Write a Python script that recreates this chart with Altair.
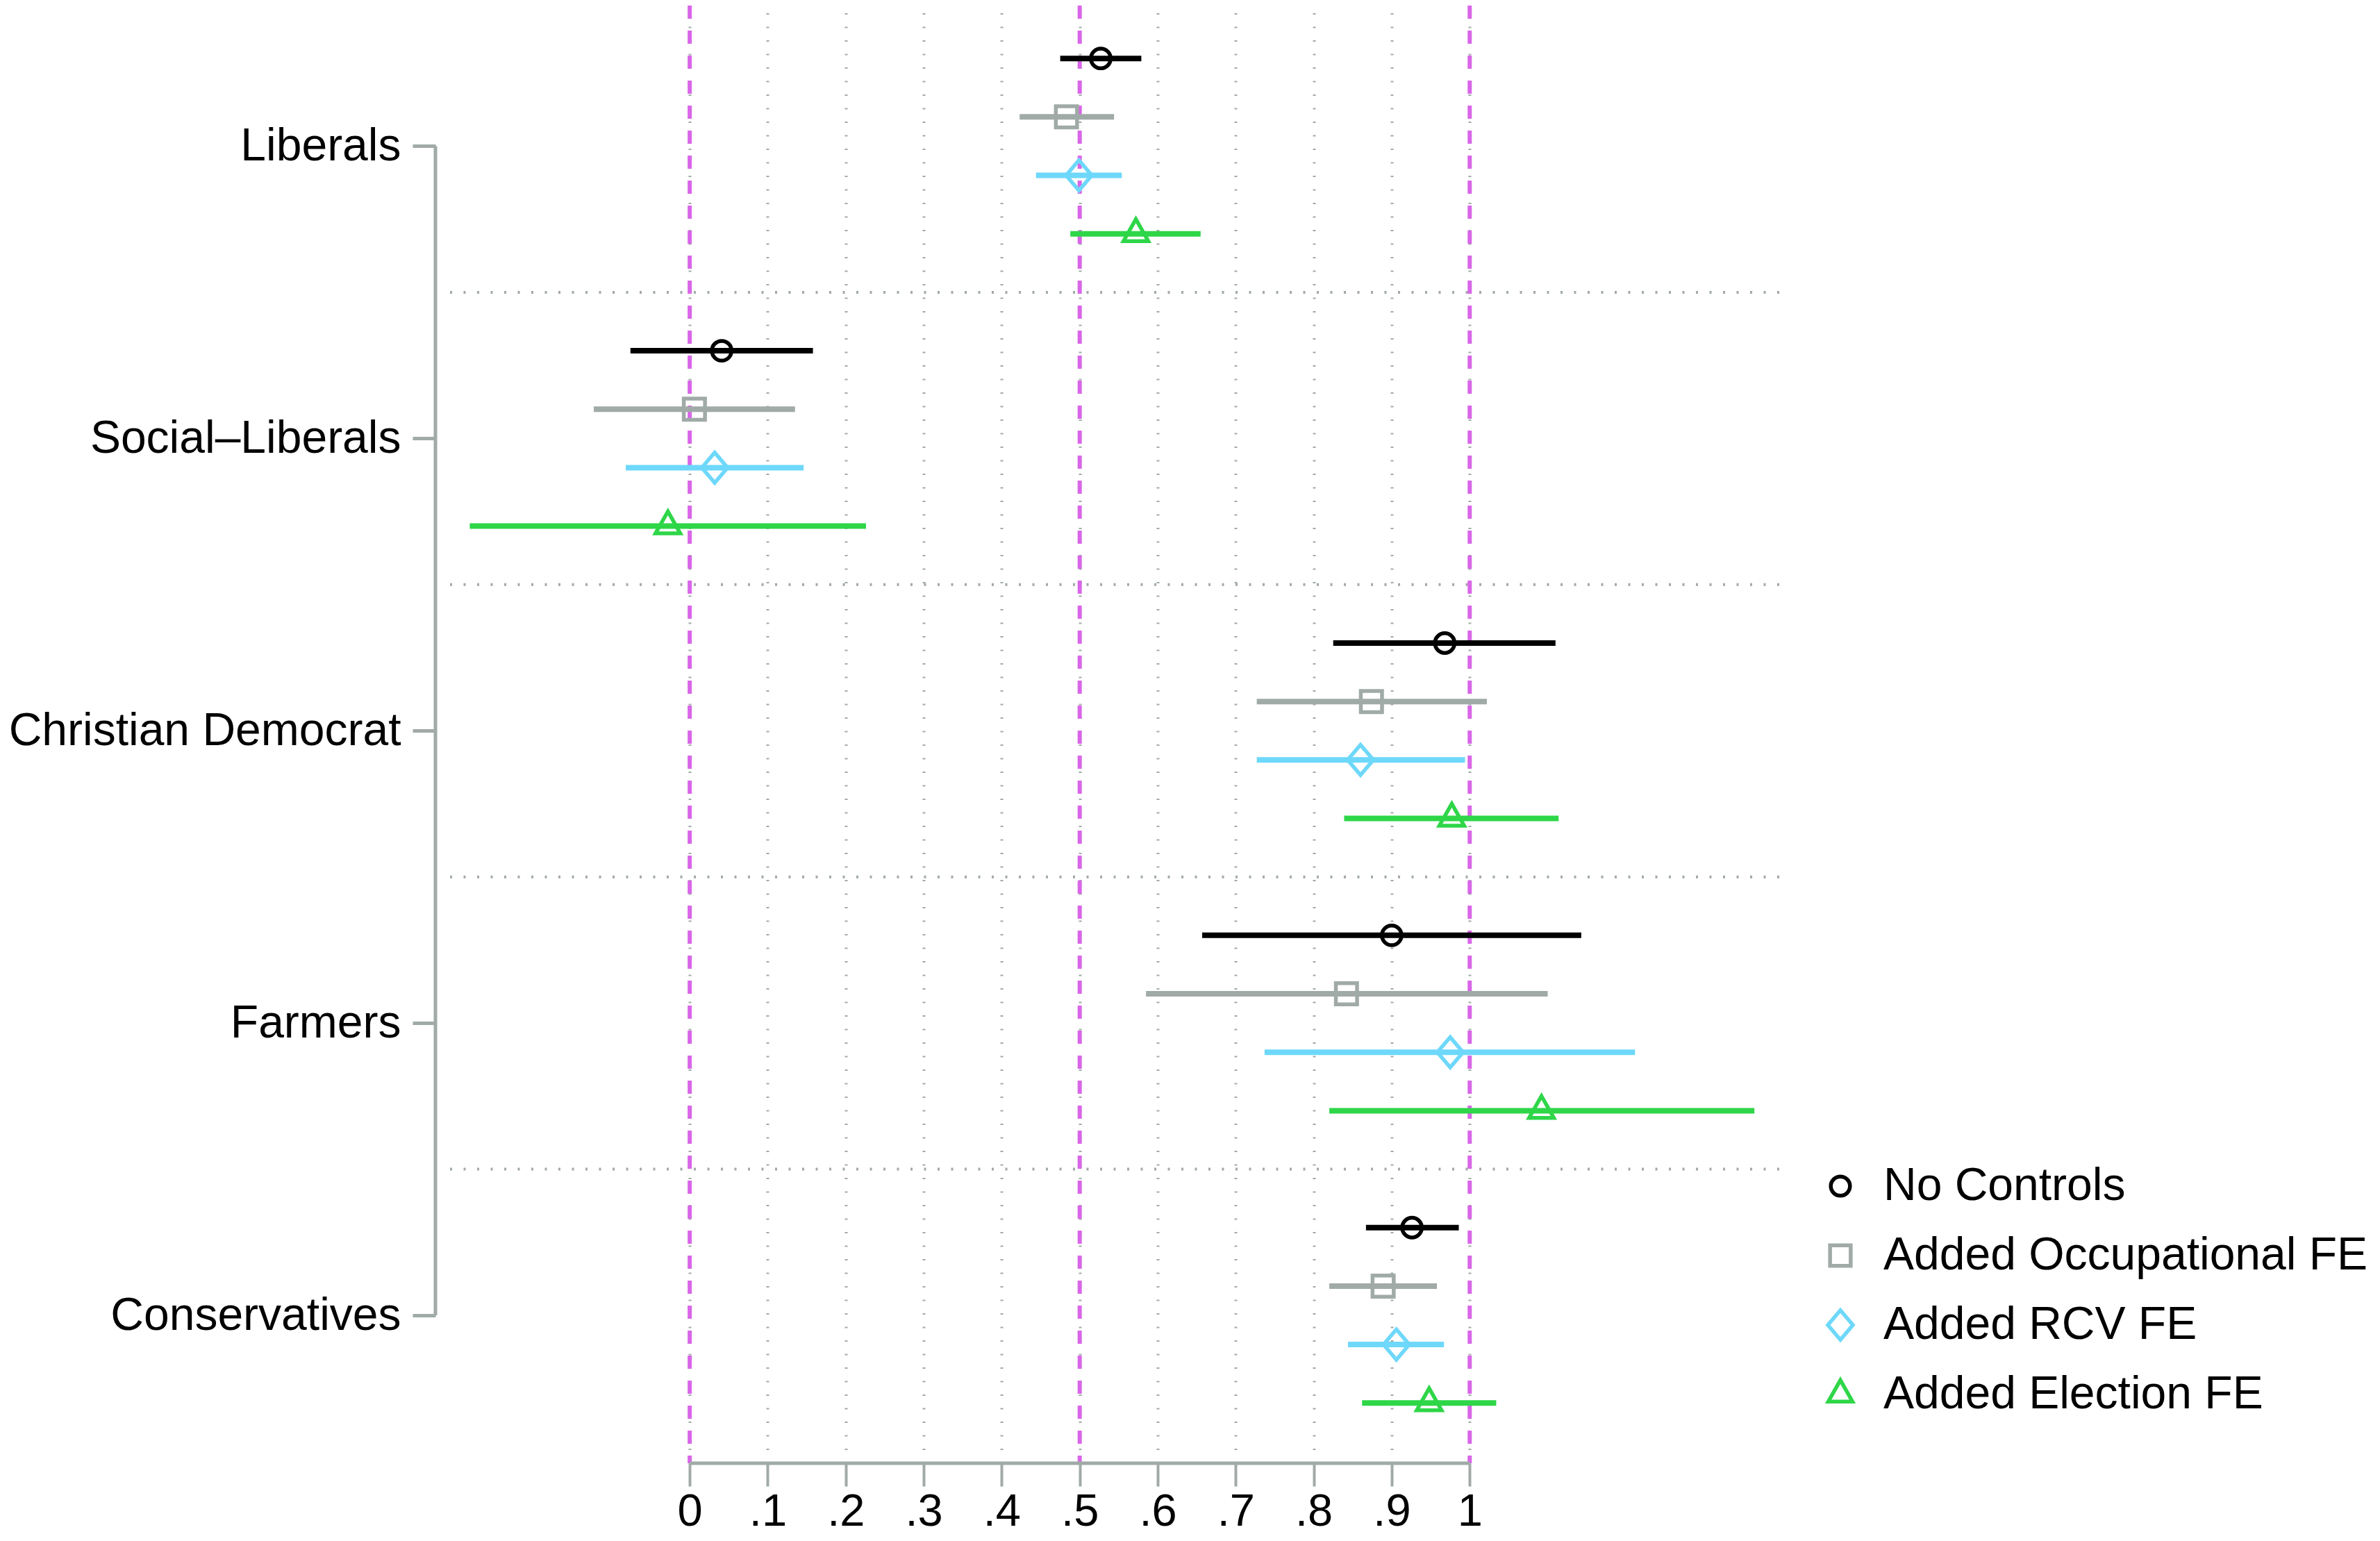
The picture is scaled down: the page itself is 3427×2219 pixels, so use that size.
import json
import pandas as pd
import altair as alt

groups = ["Liberals", "Social\u2013Liberals", "Christian Democrat", "Farmers", "Conservatives"]
series = ["No Controls", "Added Occupational FE", "Added RCV FE", "Added Election FE"]
colors = ["#000000", "#a0aaa7", "#6ed8fa", "#2ed648"]
shapes = [
    "M-0.65,0A0.65,0.65,0,1,0,0.65,0A0.65,0.65,0,1,0,-0.65,0Z",
    "M-0.7,-0.7L0.7,-0.7L0.7,0.7L-0.7,0.7Z",
    "M0,-1L0.85,0L0,1L-0.85,0Z",
    "M0,-0.97L0.82,0.48L-0.82,0.48Z",
]

# point estimates and 95% CI, one list per model (order of groups)
est_none = [0.527, 0.041, 0.968, 0.900, 0.926]
lo_none = [0.475, -0.076, 0.825, 0.657, 0.867]
hi_none = [0.579, 0.158, 1.110, 1.143, 0.986]

est_occ = [0.483, 0.006, 0.874, 0.842, 0.889]
lo_occ = [0.423, -0.123, 0.727, 0.585, 0.820]
hi_occ = [0.544, 0.135, 1.022, 1.100, 0.958]

est_rcv = [0.499, 0.032, 0.860, 0.975, 0.906]
lo_rcv = [0.444, -0.082, 0.727, 0.737, 0.844]
hi_rcv = [0.554, 0.146, 0.994, 1.212, 0.967]

est_elec = [0.572, -0.028, 0.977, 1.092, 0.948]
lo_elec = [0.488, -0.282, 0.839, 0.820, 0.862]
hi_elec = [0.655, 0.226, 1.114, 1.365, 1.034]

x_ticks = [0, 0.1, 0.2, 0.3, 0.4, 0.5, 0.6, 0.7, 0.8, 0.9, 1]
ref_lines = [0, 0.5, 1]

est = [est_none, est_occ, est_rcv, est_elec]
lo = [lo_none, lo_occ, lo_rcv, lo_elec]
hi = [hi_none, hi_occ, hi_rcv, hi_elec]

rows = []
for s, name in enumerate(series):
    for g, grp in enumerate(groups):
        rows.append({"series": name, "group": grp, "slot": g * 5 + s,
                     "est": est[s][g], "lo": lo[s][g], "hi": hi[s][g]})
df = pd.DataFrame(rows)

label_slots = [g * 5 + 1.5 for g in range(len(groups))]
sep_df = pd.DataFrame({"slot": [g * 5 + 4 for g in range(len(groups) - 1)]})
ref_df = pd.DataFrame({"ref": ref_lines})
bracket_df = pd.DataFrame({"y0": [min(label_slots)], "y1": [max(label_slots)]})
xline_df = pd.DataFrame({"x0": [min(x_ticks)], "x1": [max(x_ticks)]})

W, H = 1943, 2099
FONT = "Liberation Sans"
GRAY = "#a0aaa7"

xscale = alt.Scale(domain=[-0.326, 1.404], nice=False, zero=False)
yscale = alt.Scale(domain=[-0.905, 24.03], nice=False, zero=False, reverse=True)

x_axis = alt.Axis(
    title=None, values=x_ticks, domain=False,
    labelExpr="datum.value == 0 ? '0' : datum.value == 1 ? '1' : replace(format(datum.value, '.1f'), '0.', '.')",
    labelFont=FONT, labelFontSize=65, labelColor="black",
    labelBaseline="alphabetic", labelPadding=56,
    ticks=True, tickSize=33, tickWidth=4, tickColor=GRAY,
    grid=True, gridColor=GRAY, gridWidth=4, gridDash=[2, 17.5],
)
y_axis = alt.Axis(
    title=None, values=label_slots, domain=False, grid=False,
    labelExpr=json.dumps(groups, ensure_ascii=False) + "[round((datum.value - 1.5) / 5)]",
    labelFont=FONT, labelFontSize=66, labelColor="black", labelPadding=17, labelLimit=1000,
    ticks=True, tickSize=33, tickWidth=5, tickColor=GRAY,
)

legend = alt.Legend(
    title=None, orient="none", legendX=1990, legendY=1667,
    labelFont=FONT, labelFontSize=66, labelColor="black", labelOffset=29, labelLimit=1000,
    symbolSize=1800, symbolStrokeWidth=5.5, rowPadding=34,
)

separators = alt.Chart(sep_df).mark_rule(
    color=GRAY, strokeWidth=4, strokeDash=[3, 16.5]
).encode(
    y=alt.Y("slot:Q", scale=yscale, axis=y_axis),
    x=alt.value(21),
    x2=alt.value(W),
)

refs = alt.Chart(ref_df).mark_rule(
    color="#d966e8", strokeWidth=6, strokeDash=[19, 17]
).encode(
    x=alt.X("ref:Q", scale=xscale, axis=x_axis),
    y=alt.value(0),
    y2=alt.value(H),
)

bracket = alt.Chart(bracket_df).mark_rule(color=GRAY, strokeWidth=5).encode(
    x=alt.value(0),
    y=alt.Y("y0:Q", scale=yscale, axis=y_axis),
    y2="y1:Q",
)

xline = alt.Chart(xline_df).mark_rule(color=GRAY, strokeWidth=5).encode(
    x=alt.X("x0:Q", scale=xscale, axis=x_axis),
    x2="x1:Q",
    y=alt.value(H),
)

# one rule layer per model so that only the point layer carries the legend
bars = []
for name, col in zip(series, colors):
    bars.append(
        alt.Chart(df).mark_rule(strokeWidth=8, color=col).encode(
            x=alt.X("lo:Q", scale=xscale, axis=x_axis),
            x2="hi:Q",
            y=alt.Y("slot:Q", scale=yscale, axis=y_axis),
        ).transform_filter(alt.datum.series == name)
    )

points = alt.Chart(df).mark_point(filled=False, size=1900, strokeWidth=5.5, opacity=1).encode(
    x=alt.X("est:Q", scale=xscale, axis=x_axis),
    y=alt.Y("slot:Q", scale=yscale, axis=y_axis),
    color=alt.Color("series:N", scale=alt.Scale(domain=series, range=colors), legend=legend),
    shape=alt.Shape("series:N", scale=alt.Scale(domain=series, range=shapes), legend=legend),
)

chart = alt.layer(separators, refs, bracket, xline, *bars, points).properties(
    width=W,
    height=H,
    autosize=alt.AutoSizeParams(type="none"),
    padding={"left": 619, "top": 0, "right": 849, "bottom": 103},
    background="white",
).configure_view(stroke=None)

chart.save("out.html", embed_options={"renderer": "svg", "actions": False})
